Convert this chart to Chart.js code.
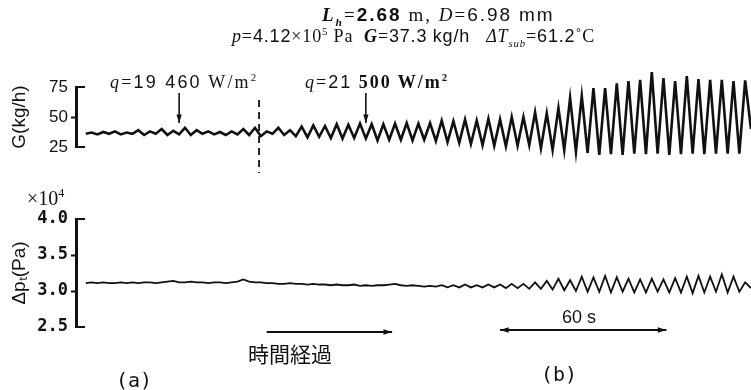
<!DOCTYPE html>
<html>
<head>
<meta charset="utf-8">
<script src="https://cdn.jsdelivr.net/npm/chart.js@4.4.1/dist/chart.umd.min.js"></script>
<style>
  body { margin: 0; background: #fff; }
  #wrap { position: relative; width: 751px; height: 390px; overflow: hidden; color: #111; font-family: "Liberation Serif", serif; }
  canvas { position: absolute; left: 0; top: 0; }
  .t { position: absolute; white-space: nowrap; line-height: 1; }
  .sans { font-family: "Liberation Sans", sans-serif; }
  sub, sup { font-size: 60%; line-height: 0; }
</style>
</head>
<body>
<div id="wrap">
  <canvas id="flowChart" width="751" height="390"></canvas>
  <canvas id="dpChart" width="751" height="390"></canvas>

  <div class="t" style="left:322px;top:5px;font-size:19px;letter-spacing:2px"><b><i>L<sub>h</sub></i></b>=<b class="sans">2.68</b> m, <i>D</i>=<span class="sans">6.98</span> <span class="sans">mm</span></div>
  <div class="t" style="left:232px;top:27px;font-size:18px;letter-spacing:0.85px"><i>p</i>=<span class="sans">4.12</span>×10<sup>5</sup> Pa&nbsp;&nbsp;<b><i>G</i></b>=<span class="sans">37.3</span> <span class="sans">kg/h</span>&nbsp;&nbsp;&nbsp;<i>ΔT<sub>sub</sub></i>=<span class="sans">61.2</span>˚C</div>

  <div class="t" style="left:110px;top:73px;font-size:18px;letter-spacing:2.2px"><i>q</i>=<span class="sans">19 460</span> W/m<sup>2</sup></div>
  <div class="t" style="left:305px;top:73px;font-size:18px;letter-spacing:2px"><i>q</i>=<span class="sans">21</span> <b>500 W/m<sup>2</sup></b></div>

  <div class="t" style="left:27px;top:188px;font-size:20px">×10<sup>4</sup></div>

  <div class="t sans" style="left:562px;top:308px;font-size:18px">60 s</div>
  <div class="t" style="left:248px;top:343px;font-size:21px;font-family:'Noto Sans CJK JP',sans-serif">時間経過</div>
  <div class="t" style="left:116px;top:370px;font-size:20px;font-family:'DejaVu Sans Mono',monospace">(a)</div>
  <div class="t" style="left:541px;top:364px;font-size:20px;font-family:'DejaVu Sans Mono',monospace">(b)</div>
</div>

<script>
// flow rate G (kg/h), one value per half oscillation period
const flowG = [
  36, 37, 35.5, 37.5, 36, 38, 35.5, 37, 36, 39,
  35, 38, 36, 40, 35, 38.5, 35.5, 41, 35, 39,
  36, 38, 35.5, 37.5, 35, 38, 35.5, 40, 35, 41,
  34, 38, 36, 41, 35, 39, 34, 42, 33, 43,
  33.5, 42.5, 32.5, 44, 32, 43.5, 32.5, 44.5, 32, 44,
  30.5, 44, 31, 44.5, 31, 45, 30.5, 44.5, 31, 45,
  30, 47, 29, 46.5, 28.5, 48, 27.5, 47, 26.5, 48.5,
  26, 48, 25.5, 50, 26, 50, 26.5, 54, 24, 53,
  22.5, 57.5, 22.5, 66, 21, 67.5, 20, 74, 18.5, 74,
  19, 78, 18.5, 80, 19.5, 81, 19, 87.5, 19.5, 82.5,
  18.5, 80, 19, 84, 19.5, 81.5, 19, 81, 19.5, 81,
  19.5, 80, 19.5, 80.5, 40
];

// pressure drop Δp_t (×10^4 Pa)
const pressureDp = [
  3.11, 3.12, 3.11, 3.12, 3.11, 3.11, 3.12, 3.11, 3.12, 3.11,
  3.12, 3.12, 3.11, 3.12, 3.13, 3.14, 3.12, 3.12, 3.13, 3.12,
  3.12, 3.11, 3.12, 3.12, 3.11, 3.12, 3.13, 3.16, 3.13, 3.12,
  3.12, 3.11, 3.11, 3.10, 3.10, 3.11, 3.10, 3.10, 3.09, 3.10,
  3.09, 3.09, 3.08, 3.09, 3.08, 3.08, 3.09, 3.07, 3.08, 3.07,
  3.08, 3.08, 3.09, 3.10, 3.08, 3.07, 3.08, 3.07, 3.06, 3.07,
  3.06, 3.08, 3.05, 3.08, 3.05, 3.09, 3.05, 3.08, 3.05, 3.09,
  3.05, 3.09, 3.04, 3.10, 3.04, 3.10, 3.03, 3.12, 3.03, 3.14,
  3.02, 3.17, 3.01, 3.15, 3.00, 3.20, 2.99, 3.19, 2.99, 3.21,
  2.98, 3.19, 2.99, 3.17, 2.98, 3.16, 2.98, 3.17, 2.99, 3.16,
  2.98, 3.18, 2.98, 3.20, 2.97, 3.21, 2.98, 3.20, 2.99, 3.23,
  2.98, 3.20, 2.99, 3.12, 3.04
];

const timeSteps = flowG.map((v, i) => i);

const ticksG = [25, 50, 75];
const ticksDp = [2.5, 3.0, 3.5, 4.0];

// time marks: q arrows and the step change (dashed line)
const heatFluxMarks = [16, 48];
const stepMark = 29.7;
// bottom arrows: elapsed time, and the 60 s span
const elapsedSpan = [31, 52.5];
const sixtySecSpan = [71, 99.5];

const ink = "#111";

const drawArrow = (ctx, x1, y1, x2, y2, both) => {
  const head = (fx, fy, tx, ty) => {
    const a = Math.atan2(ty - fy, tx - fx);
    ctx.beginPath();
    ctx.moveTo(tx, ty);
    ctx.lineTo(tx - 9 * Math.cos(a - 0.3), ty - 9 * Math.sin(a - 0.3));
    ctx.lineTo(tx - 9 * Math.cos(a + 0.3), ty - 9 * Math.sin(a + 0.3));
    ctx.closePath();
    ctx.fill();
  };
  ctx.beginPath();
  ctx.moveTo(x1, y1);
  ctx.lineTo(x2, y2);
  ctx.stroke();
  head(x1, y1, x2, y2);
  if (both) head(x2, y2, x1, y1);
};

// the "[" shaped axis: vertical line with short caps to the right at both ends
const bracketPlugin = {
  id: "bracket",
  afterDraw(chart) {
    const { ctx, chartArea } = chart;
    const x0 = chartArea.left - 1;
    ctx.save();
    ctx.strokeStyle = ink;
    ctx.lineWidth = 2;
    ctx.beginPath();
    ctx.moveTo(x0 + 9, chartArea.top);
    ctx.lineTo(x0, chartArea.top);
    ctx.lineTo(x0, chartArea.bottom);
    ctx.lineTo(x0 + 9, chartArea.bottom);
    ctx.stroke();
    ctx.restore();
  },
};

const flowMarks = {
  id: "flowMarks",
  afterDraw(chart) {
    const { ctx, chartArea } = chart;
    const x = chart.scales.x;
    ctx.save();
    ctx.strokeStyle = ink;
    ctx.fillStyle = ink;
    ctx.lineWidth = 1.6;
    heatFluxMarks.forEach((t) => {
      const px = x.getPixelForValue(t);
      drawArrow(ctx, px, chartArea.top + 6, px, chartArea.top + 36, false);
    });
    const sx = x.getPixelForValue(stepMark);
    ctx.setLineDash([7, 5]);
    ctx.lineWidth = 1.8;
    ctx.beginPath();
    ctx.moveTo(sx, chartArea.top + 13);
    ctx.lineTo(sx, chartArea.bottom + 26);
    ctx.stroke();
    ctx.restore();
  },
};

const dpMarks = {
  id: "dpMarks",
  afterDraw(chart) {
    const { ctx, chartArea } = chart;
    const x = chart.scales.x;
    ctx.save();
    ctx.strokeStyle = ink;
    ctx.fillStyle = ink;
    ctx.lineWidth = 1.8;
    drawArrow(ctx, x.getPixelForValue(elapsedSpan[0]), chartArea.bottom + 5,
      x.getPixelForValue(elapsedSpan[1]), chartArea.bottom + 5, false);
    drawArrow(ctx, x.getPixelForValue(sixtySecSpan[0]), chartArea.bottom + 3,
      x.getPixelForValue(sixtySecSpan[1]), chartArea.bottom + 3, true);
    ctx.restore();
  },
};

const yAxis = (min, max, tickValues, title, tickFont, fmt) => ({
  min: min,
  max: max,
  afterBuildTicks: (scale) => {
    scale.ticks = tickValues.map((v) => ({ value: v }));
  },
  afterFit: (scale) => {
    scale.width = 77;
  },
  border: { display: true, color: ink, width: 2 },
  grid: {
    drawOnChartArea: false,
    drawTicks: true,
    tickLength: 6,
    tickWidth: 2,
    tickColor: (c) => {
      const v = c.tick ? c.tick.value : null;
      return v === min || v === max ? "rgba(0,0,0,0)" : ink;
    },
  },
  ticks: {
    color: ink,
    padding: 3,
    font: tickFont,
    callback: fmt,
  },
  title: {
    display: true,
    text: title,
    color: ink,
    font: { family: "Liberation Sans", size: 19 },
    padding: { top: 8, bottom: 0 },
  },
});

const xAxis = {
  type: "linear",
  min: -1.5,
  max: 114,
  display: false,
};

const baseOptions = (pad, y) => ({
  responsive: false,
  animation: false,
  layout: { padding: pad },
  plugins: { legend: { display: false }, tooltip: { enabled: false } },
  scales: { x: xAxis, y: y },
});

new Chart(document.getElementById("flowChart").getContext("2d"), {
  type: "line",
  data: {
    labels: timeSteps,
    datasets: [
      {
        label: "G",
        data: flowG.map((v, i) => ({ x: timeSteps[i], y: v })),
        borderColor: ink,
        borderWidth: 2.6,
        pointRadius: 0,
        tension: 0,
        clip: false,
        fill: false,
      },
    ],
  },
  options: baseOptions(
    { top: 87, bottom: 243, left: 0, right: 0 },
    yAxis(25, 75, ticksG, "G(kg/h)", { family: "Liberation Sans", size: 17 }, (v) => v)
  ),
  plugins: [bracketPlugin, flowMarks],
});

new Chart(document.getElementById("dpChart").getContext("2d"), {
  type: "line",
  data: {
    labels: timeSteps,
    datasets: [
      {
        label: "dp",
        data: pressureDp.map((v, i) => ({ x: timeSteps[i], y: v })),
        borderColor: ink,
        borderWidth: 1.8,
        pointRadius: 0,
        tension: 0,
        clip: false,
        fill: false,
      },
    ],
  },
  options: baseOptions(
    { top: 219, bottom: 63, left: 0, right: 0 },
    yAxis(2.5, 4.0, ticksDp, "Δpₜ(Pa)", { family: "DejaVu Sans Mono", size: 17, weight: "bold" }, (v) => v.toFixed(1))
  ),
  plugins: [bracketPlugin, dpMarks],
});
</script>
</body>
</html>
